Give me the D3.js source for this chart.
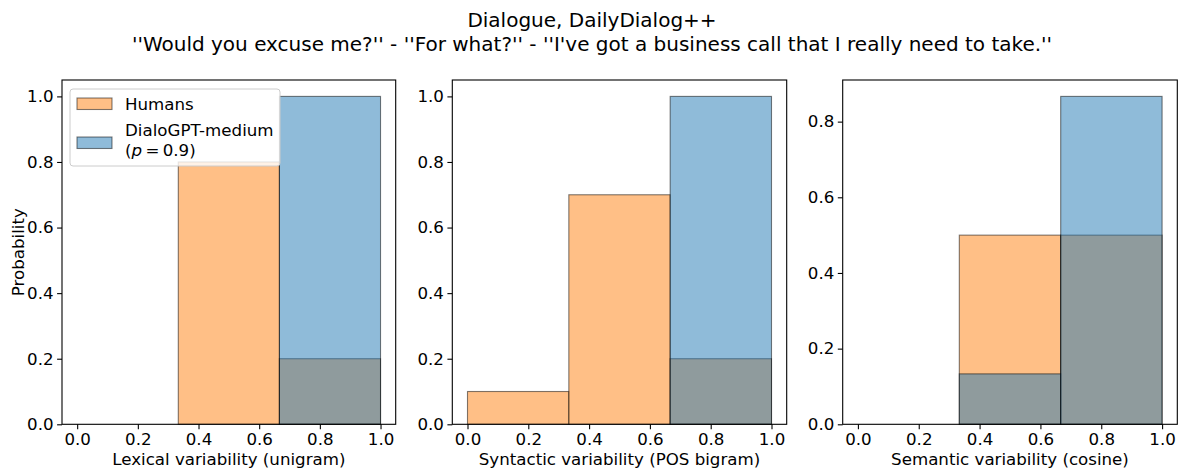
<!DOCTYPE html>
<html>
<head>
<meta charset="utf-8">
<script src="https://cdn.jsdelivr.net/npm/d3@7"></script>
<style>
  body { margin: 0; background: #fff; }
  svg { display: block; font-family: "DejaVu Sans", sans-serif; }
</style>
</head>
<body>
<svg id="chart" width="1184" height="471"></svg>
<script>
// ---- data ----
const titleLines = ["Dialogue, DailyDialog++",
  "''Would you excuse me?'' - ''For what?'' - ''I've got a business call that I really need to take.''"];
const binEdges = [0, 1/3, 2/3, 1];
const seriesNames = ["Humans", "DialoGPT-medium"];
const xLabels = ["Lexical variability (unigram)", "Syntactic variability (POS bigram)", "Semantic variability (cosine)"];
const humansLexical = [0.0, 0.8, 0.2];
const modelLexical = [0.0, 0.0, 1.0];
const humansSyntactic = [0.1, 0.7, 0.2];
const modelSyntactic = [0.0, 0.0, 1.0];
const humansSemantic = [0.0, 0.5, 0.5];
const modelSemantic = [0.0, 0.1333, 0.8667];
const xTicks = [0, 0.2, 0.4, 0.6, 0.8, 1.0];
const yTicksA = [0, 0.2, 0.4, 0.6, 0.8, 1.0];
const yTicksC = [0, 0.2, 0.4, 0.6, 0.8];

const panels = [
  {humans: humansLexical, model: modelLexical, xlabel: xLabels[0], yticks: yTicksA, left: 62, right: 395.7, ylabel: "Probability", legend: true},
  {humans: humansSyntactic, model: modelSyntactic, xlabel: xLabels[1], yticks: yTicksA, left: 452.3, right: 786.7},
  {humans: humansSemantic, model: modelSemantic, xlabel: xLabels[2], yticks: yTicksC, left: 842.7, right: 1177.3}
];

const colors = {humans: "#ff7f0e", model: "#1f77b4"};
const axTop = 80, axBottom = 424.3;
const fs = 16.67;
const svg = d3.select("#chart");

// title
svg.append("text").attr("x", 592).attr("y", 26.5).attr("text-anchor", "middle")
  .attr("font-size", 20).attr("fill", "#000").text(titleLines[0]);
svg.append("text").attr("x", 592).attr("y", 50.5).attr("text-anchor", "middle")
  .attr("font-size", 20).attr("fill", "#000").text(titleLines[1]);

panels.forEach(p => {
  const ymaxData = d3.max([...p.humans, ...p.model]);
  const x = d3.scaleLinear().domain([-0.05, 1.05]).range([p.left, p.right]);
  const y = d3.scaleLinear().domain([0, ymaxData * 1.05]).range([axBottom, axTop]);
  const g = svg.append("g");

  const bins = d3.range(binEdges.length - 1).map(i => ({x0: binEdges[i], x1: binEdges[i + 1], i}));

  [["humans", p.humans], ["model", p.model]].forEach(([key, vals]) => {
    g.selectAll(null).data(bins.filter(b => vals[b.i] > 0)).enter().append("rect")
      .attr("x", b => x(b.x0))
      .attr("width", b => x(b.x1) - x(b.x0))
      .attr("y", b => y(vals[b.i]))
      .attr("height", b => y(0) - y(vals[b.i]))
      .attr("fill", colors[key]).attr("fill-opacity", 0.5)
      .attr("stroke", "#000").attr("stroke-opacity", 0.5).attr("stroke-width", 1.1);
  });

  // axes
  const xAxis = d3.axisBottom(x).tickValues(xTicks).tickFormat(d3.format(".1f")).tickSize(4.9).tickPadding(3.5);
  const yAxis = d3.axisLeft(y).tickValues(p.yticks).tickFormat(d3.format(".1f")).tickSize(4.9).tickPadding(3.5);
  const gx = g.append("g").attr("transform", `translate(0,${axBottom})`).call(xAxis);
  const gy = g.append("g").attr("transform", `translate(${p.left},0)`).call(yAxis);
  [gx, gy].forEach(a => {
    a.select(".domain").remove();
    a.selectAll("text").attr("font-size", fs).attr("fill", "#000").attr("font-family", "DejaVu Sans");
    a.selectAll("line").attr("stroke", "#000").attr("stroke-width", 1.1);
  });
  // spines
  g.append("rect").attr("x", p.left).attr("y", axTop).attr("width", p.right - p.left).attr("height", axBottom - axTop)
    .attr("fill", "none").attr("stroke", "#000").attr("stroke-width", 1.1);

  g.append("text").attr("x", (p.left + p.right) / 2).attr("y", 464.5).attr("text-anchor", "middle")
    .attr("font-size", fs).attr("fill", "#000").text(p.xlabel);

  if (p.ylabel) {
    g.append("text").attr("transform", `translate(24,${(axTop + axBottom) / 2}) rotate(-90)`)
      .attr("text-anchor", "middle").attr("font-size", fs).attr("fill", "#000").text(p.ylabel);
  }

  if (p.legend) {
    const lg = svg.append("g");
    lg.append("rect").attr("x", 70).attr("y", 89).attr("width", 210).attr("height", 77).attr("rx", 3)
      .attr("fill", "#fff").attr("fill-opacity", 0.8).attr("stroke", "#cccccc").attr("stroke-width", 1);
    const items = [
      {key: "humans", name: seriesNames[0], py: 98, ty: 109.5},
      {key: "model", name: seriesNames[1], py: 137, ty: 135.5}
    ];
    items.forEach(it => {
      lg.append("rect").attr("x", 77).attr("y", it.py).attr("width", 35).attr("height", 11.5)
        .attr("fill", colors[it.key]).attr("fill-opacity", 0.5)
        .attr("stroke", "#000").attr("stroke-opacity", 0.5).attr("stroke-width", 1.1);
      lg.append("text").attr("x", 125).attr("y", it.ty).attr("font-size", fs).attr("fill", "#000").text(it.name);
    });
    const t2 = lg.append("text").attr("x", 125).attr("y", 155.5).attr("font-size", fs).attr("fill", "#000");
    t2.append("tspan").text("(");
    t2.append("tspan").attr("font-style", "italic").text("p");
    t2.append("tspan").text("\u2009=\u20090.9)");
  }
});
</script>
</body>
</html>
